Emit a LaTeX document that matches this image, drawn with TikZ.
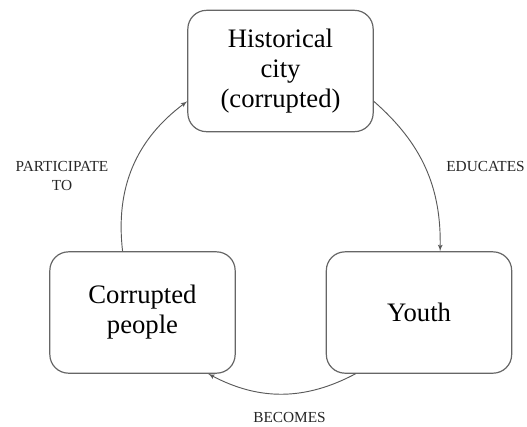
\documentclass[tikz,border=0pt]{standalone}
\usepackage{fontspec}
\setmainfont{Liberation Serif}
\usetikzlibrary{arrows}
\usepackage{xcolor}

\begin{document}
\begin{tikzpicture}[x=0.75pt, y=-0.75pt]
\tikzset{
    mybox/.style={rectangle, rounded corners=14pt, draw=black!60, line width=0.9pt, inner sep=0pt, minimum width=139pt, minimum height=91pt, align=center, font=\fontsize{20}{22.5}\selectfont},
    myarrow/.style={->, >=latex', draw=black!65, line width=0.7pt},
    mylabel/.style={align=center, inner sep=0pt, text=black!85, font=\fontsize{11.5}{14}\selectfont}
}
\useasboundingbox (0,0) rectangle (527,426);

\node[mybox] (city) at (280.5,71) {Historical\\city\\(corrupted)};
\node[mybox] (youth) at (419,312.5) {Youth};
\node[mybox] (people) at (142.5,312.5) {Corrupted\\people};

\node[mylabel] (educates) at (485.5,166) {EDUCATES};
\node[mylabel] (becomes) at (289.5,417) {BECOMES};
\node[mylabel] (participate) at (62,176) {PARTICIPATE\\TO};

% the three arcs lie on one circle round the middle
\draw[myarrow] (city.-18) to[bend left=25] (youth.71);
\draw[myarrow] (youth.224) to[bend left=28] (people.-43);
\draw[myarrow] (people.108) to[bend left=30] (city.198);

\end{tikzpicture}
\end{document}
